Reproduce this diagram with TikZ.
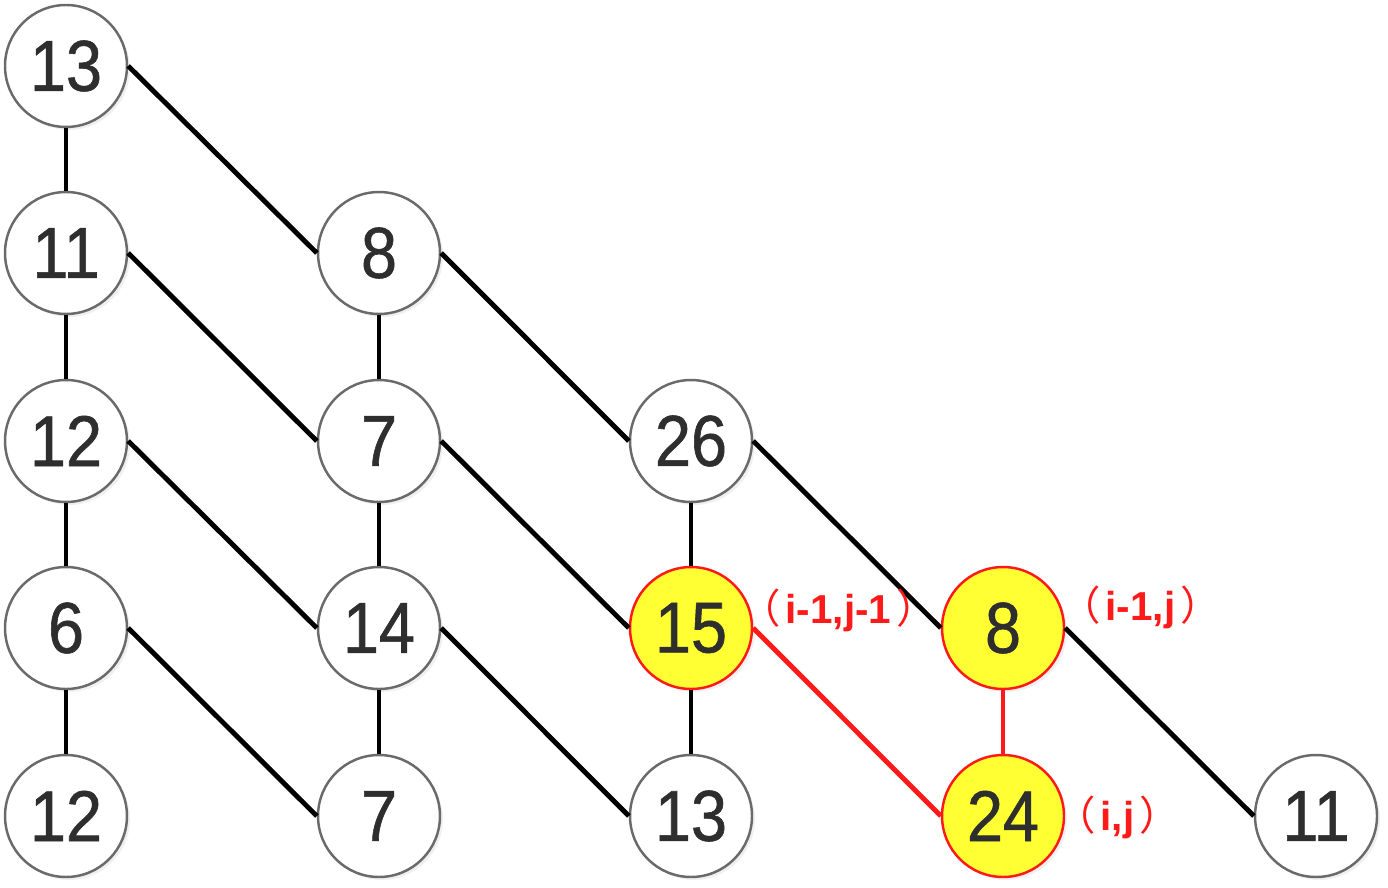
\documentclass[tikz,border=0pt]{standalone}
\usepackage{fontspec}
\setmainfont{Liberation Sans}
\newfontfamily\digitfont[FakeStretch=0.9, FakeBold=0.8]{Liberation Sans}
\newfontfamily\cjk{Noto Sans CJK SC}
\usetikzlibrary{shadows}

\definecolor{rimgray}{HTML}{6A6A6A}
\definecolor{numgray}{HTML}{2E2E2E}
\definecolor{hotred}{HTML}{FF1A1A}
\definecolor{hotyellow}{HTML}{FFFF33}

\tikzset{
    cell/.style={circle, draw=rimgray, line width=1.4pt, fill=white,
        minimum size=2.44cm, inner sep=0pt, text=numgray,
        font=\digitfont\fontsize{41}{41}\selectfont,
        drop shadow={shadow xshift=0.06cm, shadow yshift=-0.06cm, opacity=0.12}},
    hot/.style={cell, draw=hotred, fill=hotyellow},
    link/.style={line width=2.8pt, black},
    hotlink/.style={line width=2.8pt, hotred},
    tag/.style={text=hotred, font=\fontsize{23}{23}\selectfont\bfseries, inner sep=0pt}
}

\begin{document}
\begin{tikzpicture}[x=0.02cm, y=-0.02cm]
    \useasboundingbox (0, 0) rectangle (1388, 888);

    % first column
    \node[cell] (a0) at (66, 66) {13};
    \node[cell] (a1) at (66, 253) {11};
    \node[cell] (a2) at (66, 441) {12};
    \node[cell] (a3) at (66, 628) {6};
    \node[cell] (a4) at (66, 816) {12};

    % second column
    \node[cell] (b1) at (379, 253) {8};
    \node[cell] (b2) at (379, 441) {7};
    \node[cell] (b3) at (379, 628) {14};
    \node[cell] (b4) at (379, 816) {7};

    % third column
    \node[cell] (c2) at (691, 441) {26};
    \node[hot] (c3) at (691, 628) {15};
    \node[cell] (c4) at (691, 816) {13};

    % fourth and fifth column
    \node[hot] (d3) at (1003, 628) {8};
    \node[hot] (d4) at (1003, 816) {24};
    \node[cell] (e4) at (1316, 816) {11};

    \draw[link] (a0.south) -- (a1.north);
    \draw[link] (a1.south) -- (a2.north);
    \draw[link] (a2.south) -- (a3.north);
    \draw[link] (a3.south) -- (a4.north);
    \draw[link] (b1.south) -- (b2.north);
    \draw[link] (b2.south) -- (b3.north);
    \draw[link] (b3.south) -- (b4.north);
    \draw[link] (c2.south) -- (c3.north);
    \draw[link] (c3.south) -- (c4.north);

    \draw[link] (a0.east) -- (b1.west);
    \draw[link] (a1.east) -- (b2.west);
    \draw[link] (a2.east) -- (b3.west);
    \draw[link] (a3.east) -- (b4.west);
    \draw[link] (b1.east) -- (c2.west);
    \draw[link] (b2.east) -- (c3.west);
    \draw[link] (b3.east) -- (c4.west);
    \draw[link] (c2.east) -- (d3.west);
    \draw[link] (d3.east) -- (e4.west);

    \draw[hotlink] (c3.east) -- (d4.west);
    \draw[hotlink] (d3.south) -- (d4.north);

    \node[tag, anchor=west] (t1) at (740, 610) {{\cjk\mdseries （}\kern0.12em i-1,j-1\kern0.12em{\cjk\mdseries ）}};
    \node[tag, anchor=west] (t2) at (1060, 607) {{\cjk\mdseries （}\kern0.12em i-1,j\kern0.12em{\cjk\mdseries ）}};
    \node[tag, anchor=west] (t3) at (1055, 817) {{\cjk\mdseries （}\kern0.12em i,j\kern0.12em{\cjk\mdseries ）}};
\end{tikzpicture}
\end{document}
